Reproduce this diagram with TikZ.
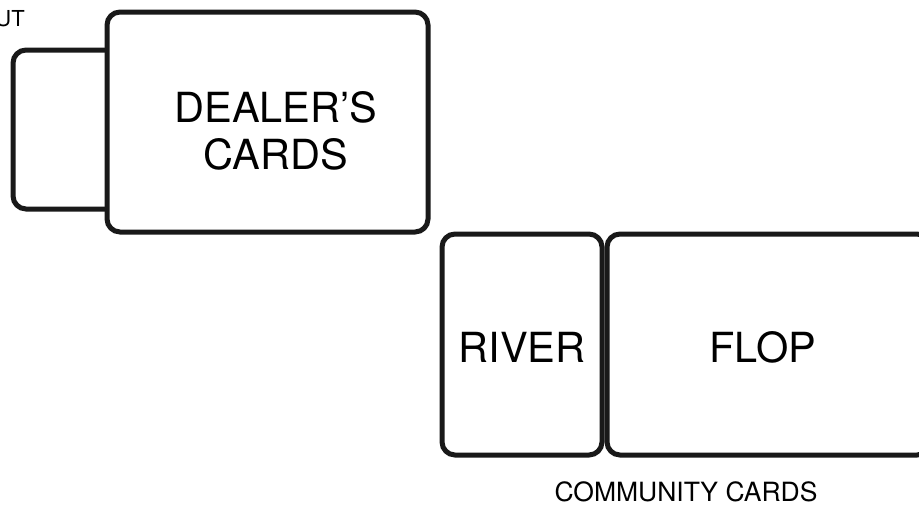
\documentclass[tikz,border=0pt]{standalone}
\usepackage{fontspec}
\setmainfont{TeX Gyre Heros}
\usetikzlibrary{positioning}

\begin{document}
\begin{tikzpicture}[
x=1pt, y=-1pt,
card/.style={rectangle, rounded corners=13pt, draw=black!90, line width=5pt, fill=white, inner sep=0pt},
bigtext/.style={font=\fontsize{41.5}{47}\selectfont, align=center, inner sep=0pt},
smalltext/.style={font=\fontsize{26.5}{30}\selectfont, inner sep=0pt, anchor=base},
]

% Page frame
\useasboundingbox (0,0) rectangle (919,506);
\clip (0,0) rectangle (919,506);

% Dealer side
\node[card, minimum width=170, minimum height=159] (spare) at (98,129.5) {};
\node[card, minimum width=321, minimum height=220] (dealer) at (267.5,122) {};
\node[smalltext, font=\fontsize{22}{24}\selectfont, anchor=base east] (cut) at (25,27) {UT};

% Community cards
\node[card, minimum width=160, minimum height=221] (river) at (522,344.5) {};
\node[card, minimum width=323, minimum height=221] (flop) at (768.5,344.5) {};

% Labels
\node[bigtext] (dealer_txt) at (276,131) {DEALER’S\\CARDS};
\node[bigtext] (river_txt) at (522,347) {RIVER};
\node[bigtext] (flop_txt) at (763,347) {FLOP};
\node[smalltext] (community) at (686,501) {COMMUNITY CARDS};

\end{tikzpicture}
\end{document}
